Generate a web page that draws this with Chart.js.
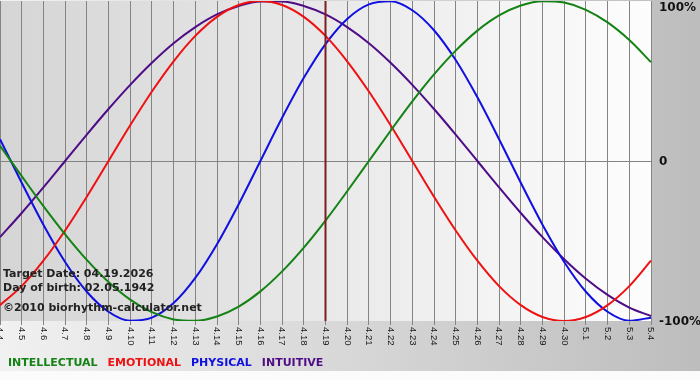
<!DOCTYPE html>
<html>
<head>
<meta charset="utf-8">
<script src="https://cdn.jsdelivr.net/npm/chart.js@4/dist/chart.umd.min.js"></script>
<style>
  html, body { margin: 0; padding: 0; background: #fff; }
  #chart { display: block; }
</style>
</head>
<body>
<canvas id="chart" width="700" height="380"></canvas>
<script>
'use strict';

const DAYS = ['4.4', '4.5', '4.6', '4.7', '4.8', '4.9', '4.10', '4.11', '4.12', '4.13', '4.14', '4.15',
  '4.16', '4.17', '4.18', '4.19', '4.20', '4.21', '4.22', '4.23', '4.24', '4.25', '4.26', '4.27',
  '4.28', '4.29', '4.30', '5.1', '5.2', '5.3', '5.4'];

const INTELLECTUAL = [9.5, -9.5, -28.2, -45.8, -61.8, -75.6, -86.6, -94.5, -99.0, -99.9, -97.2, -91.0,
  -81.5, -69.0, -54.1, -37.2, -18.9, 0, 18.9, 37.2, 54.1, 69.0, 81.5, 91.0, 97.2, 99.9, 99.0, 94.5,
  86.6, 75.6, 61.8];
const EMOTIONAL = [-90.1, -78.2, -62.3, -43.4, -22.3, 0, 22.3, 43.4, 62.3, 78.2, 90.1, 97.5, 100,
  97.5, 90.1, 78.2, 62.3, 43.4, 22.3, 0, -22.3, -43.4, -62.3, -78.2, -90.1, -97.5, -100, -97.5,
  -90.1, -78.2, -62.3];
const PHYSICAL = [13.6, -13.6, -39.8, -63.1, -81.7, -94.2, -99.8, -97.9, -88.8, -73.1, -52.0, -27.0,
  0, 27.0, 52.0, 73.1, 88.8, 97.9, 99.8, 94.2, 81.7, 63.1, 39.8, 13.6, -13.6, -39.8, -63.1, -81.7,
  -94.2, -99.8, -97.9];
const INTUITIVE = [-47.6, -32.5, -16.5, 0, 16.5, 32.5, 47.6, 61.4, 73.6, 83.7, 91.6, 96.9, 99.7,
  99.7, 96.9, 91.6, 83.7, 73.6, 61.4, 47.6, 32.5, 16.5, 0, -16.5, -32.5, -47.6, -61.4, -73.6,
  -83.7, -91.6, -96.9];

const SERIES_NAMES = ['INTELLECTUAL', 'EMOTIONAL', 'PHYSICAL', 'INTUITIVE'];
const Y_TICKS = [100, 0, -100];
const Y_TICK_LABELS = ['100%', '0', '-100%'];
const TARGET_DAY = '4.19';
const INFO_LINES = ['Target Date: 04.19.2026', 'Day of birth: 02.05.1942', '\u00a92010 biorhythm-calculator.net'];

const COLORS = ['#148214', '#ee1111', '#1010e0', '#4e0c86'];
const GRID = '#848484';

function series(label, data, color) {
  return {
    label,
    data,
    borderColor: color,
    backgroundColor: color,
    borderWidth: 2,
    pointRadius: 0,
    cubicInterpolationMode: 'monotone',
    fill: false,
  };
}

const bioPlugin = {
  id: 'bio',
  beforeDraw(chart) {
    const { ctx, chartArea: a, width, height } = chart;
    ctx.save();
    let g = ctx.createLinearGradient(0, 0, width, 0);
    g.addColorStop(0, '#f1f1f1');
    g.addColorStop(1, '#bdbdbd');
    ctx.fillStyle = g;
    ctx.fillRect(0, 0, width, height);
    ctx.fillStyle = '#fbfbfb';
    ctx.fillRect(0, 371, width, height - 371);
    g = ctx.createLinearGradient(a.left, 0, a.right, 0);
    g.addColorStop(0, '#d5d5d5');
    g.addColorStop(1, '#fdfdfd');
    ctx.fillStyle = g;
    ctx.fillRect(a.left, a.top, a.width, a.height);
    ctx.restore();
  },
  afterDatasetsDraw(chart) {
    const { ctx, chartArea: a, scales } = chart;
    const x = scales.x.getPixelForValue(DAYS.indexOf(TARGET_DAY));
    ctx.save();
    ctx.strokeStyle = '#7d1f1f';
    ctx.lineWidth = 2;
    ctx.beginPath();
    ctx.moveTo(x, a.top);
    ctx.lineTo(x, a.bottom);
    ctx.stroke();
    ctx.restore();
  },
  afterDraw(chart) {
    const { ctx, chartArea: a, scales } = chart;
    ctx.save();

    // day labels, rotated clockwise
    ctx.fillStyle = '#1a1a1a';
    ctx.font = '9.5px "Liberation Sans"';
    ctx.textAlign = 'left';
    ctx.textBaseline = 'middle';
    DAYS.forEach((d, i) => {
      ctx.save();
      ctx.translate(scales.x.getPixelForValue(i), a.bottom + 6);
      ctx.rotate(Math.PI / 2);
      ctx.fillText(d, 0, 0);
      ctx.restore();
    });

    // percent labels on the right
    ctx.fillStyle = '#111';
    ctx.font = 'bold 12px "DejaVu Sans"';
    Y_TICKS.forEach((v, i) => {
      const y = Math.max(scales.y.getPixelForValue(v), a.top + 6) + 1;
      ctx.fillText(Y_TICK_LABELS[i], a.right + 8, y);
    });

    // info block
    ctx.fillStyle = '#222';
    ctx.font = 'bold 11px "DejaVu Sans"';
    ctx.textBaseline = 'alphabetic';
    [277, 291, 311].forEach((y, i) => ctx.fillText(INFO_LINES[i], 3, y));

    // legend
    let lx = 8;
    chart.data.datasets.forEach((ds) => {
      ctx.fillStyle = ds.borderColor;
      ctx.fillText(ds.label, lx, 366);
      lx += ctx.measureText(ds.label).width + 10;
    });
    ctx.restore();
  },
};

new Chart(document.getElementById('chart'), {
  type: 'line',
  data: {
    labels: DAYS,
    datasets: [
      series(SERIES_NAMES[0], INTELLECTUAL, COLORS[0]),
      series(SERIES_NAMES[1], EMOTIONAL, COLORS[1]),
      series(SERIES_NAMES[2], PHYSICAL, COLORS[2]),
      series(SERIES_NAMES[3], INTUITIVE, COLORS[3]),
    ],
  },
  options: {
    responsive: false,
    animation: false,
    layout: { padding: { top: 1, left: 0, right: 0, bottom: 0 } },
    plugins: { legend: { display: false }, tooltip: { enabled: false } },
    scales: {
      x: {
        ticks: { display: false },
        grid: { color: GRID, lineWidth: 1, drawTicks: true, tickLength: 4 },
        border: { display: false },
        afterFit(scale) { scale.height = 59; },
      },
      y: {
        position: 'right',
        min: -100,
        max: 100,
        ticks: { display: false, stepSize: 100 },
        grid: {
          drawTicks: false,
          color: (c) => (c.tick && c.tick.value === 0 ? GRID : 'rgba(0,0,0,0)'),
        },
        border: { display: false },
        afterFit(scale) { scale.width = 49; },
      },
    },
  },
  plugins: [bioPlugin],
});
</script>
</body>
</html>
